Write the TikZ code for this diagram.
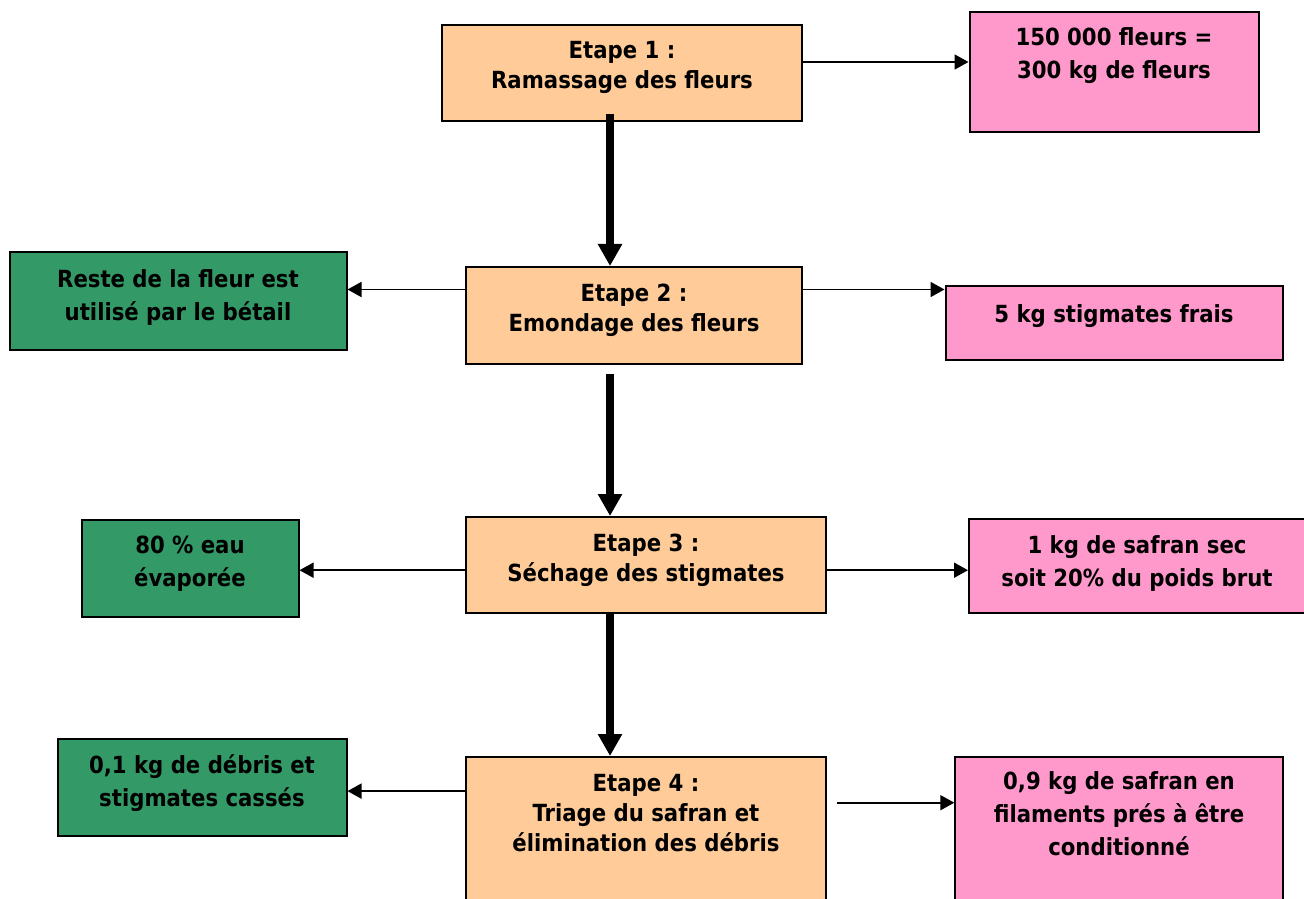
\documentclass[tikz,border=0pt]{standalone}
\usepackage{fontspec}
\setmainfont{DejaVu Sans Condensed}
\usetikzlibrary{arrows.meta}

\definecolor{peach}{RGB}{255,204,153}
\definecolor{rose}{RGB}{255,153,204}
\definecolor{vert}{RGB}{51,153,102}

\begin{document}
\begin{tikzpicture}[x=0.5pt, y=-0.5pt]
            \useasboundingbox (0,0) rectangle (1304,898);
            \clip (0,0) rectangle (1304,898);
            {
                \tikzset{every node/.style = {shape=rectangle, draw, line width=1pt, inner sep=0pt}}
                \tikzset{etape/.style = {fill=peach}, sortie/.style = {fill=rose}, perte/.style = {fill=vert}}
                % text nodes sit on the baseline of their last line
                \tikzset{txt/.style = {draw=none, anchor=base, align=center, font=\bfseries\fontsize{11.8}{#1}\selectfont}, txt/.default=15}

                % the four steps
                \node[etape, minimum width=180pt, minimum height=48pt] (e1) at (622,73) {};
                \node[txt] (e1t) at (622,89) {Etape 1 :\\Ramassage des fleurs};
                \node[etape, minimum width=168pt, minimum height=48.5pt] (e2) at (634,315.5) {};
                \node[txt] (e2t) at (634,331) {Etape 2 :\\Emondage des fleurs};
                \node[etape, minimum width=180pt, minimum height=48pt] (e3) at (646,565) {};
                \node[txt] (e3t) at (646,581) {Etape 3 :\\Séchage des stigmates};
                \node[etape, minimum width=180pt, minimum height=76.5pt] (e4) at (646,833.5) {};
                \node[txt] (e4t) at (646,851) {Etape 4 :\\Triage du safran et\\élimination des débris};

                % what is kept
                \node[sortie, minimum width=144.5pt, minimum height=60pt] (p1) at (1114,72) {};
                \node[txt=16.8] (p1t) at (1114,79) {150 000 fleurs =\\300 kg de fleurs};
                \node[sortie, minimum width=168.5pt, minimum height=36.5pt] (p2) at (1114,323) {};
                \node[txt] (p2t) at (1114,322) {5 kg stigmates frais};
                \node[sortie, minimum width=170.5pt, minimum height=47pt] (p3) at (1139.5,566.3) {};
                \node[txt=16.8] (p3t) at (1137,586.6) {1 kg de safran sec\\soit 20\% du poids brut};
                \node[sortie, minimum width=163.7pt, minimum height=76.6pt] (p4) at (1119,833.3) {};
                \node[txt=16.3] (p4t) at (1119,855) {0,9 kg de safran en\\filaments prés à être\\conditionné};

                % what is lost
                \node[perte, minimum width=168.5pt, minimum height=48.5pt] (g1) at (178,301) {};
                \node[txt=17] (g1t) at (178,321) {Reste de la fleur est\\utilisé par le bétail};
                \node[perte, minimum width=108.5pt, minimum height=48.5pt] (g2) at (190,568) {};
                \node[txt=16.8] (g2t) at (190,586.6) {80 \% eau\\évaporée};
                \node[perte, minimum width=144.5pt, minimum height=48.5pt] (g3) at (202,787) {};
                \node[txt=16.8] (g3t) at (202,806.6) {0,1 kg de débris et\\stigmates cassés};
            }

            % thick arrows between the steps
            \tikzset{big/.style = {line width=3.7pt, -{Triangle[width=11.5pt, length=11pt]}}}
            \draw ([xshift=-6pt, yshift=4pt]e1.south) edge[big] ([xshift=-12pt]e2.north);
            \draw ([xshift=-12pt, yshift=-4.5pt]e2.south) edge[big] ([xshift=-18pt]e3.north);
            \draw ([xshift=-18pt]e3.south) edge[big] ([xshift=-18pt]e4.north);

            % thin arrows to the side boxes
            \tikzset{flow/.style = {line width=0.85pt, -{Triangle[width=7.5pt, length=7pt]}}}
            \draw ([yshift=5.5pt]e1.east) edge[flow] ([yshift=5.5pt]e1.east -| p1.west);
            \draw ([yshift=13pt]e2.west) edge[flow] ([yshift=13pt]e2.west -| g1.east);
            \draw ([yshift=13pt]e2.east) edge[flow] ([yshift=13pt]e2.east -| p2.west);
            \draw ([yshift=-2.6pt]e3.west) edge[flow] ([yshift=-2.6pt]e3.west -| g2.east);
            \draw ([yshift=-2.6pt]e3.east) edge[flow] ([yshift=-2.6pt]e3.east -| p3.west);
            \draw ([yshift=21.2pt]e4.west) edge[flow] ([yshift=21.2pt]e4.west -| g3.east);
            \draw ([xshift=5pt, yshift=15.4pt]e4.east) edge[flow] ([yshift=15.4pt]e4.east -| p4.west);

        \end{tikzpicture}
\end{document}
